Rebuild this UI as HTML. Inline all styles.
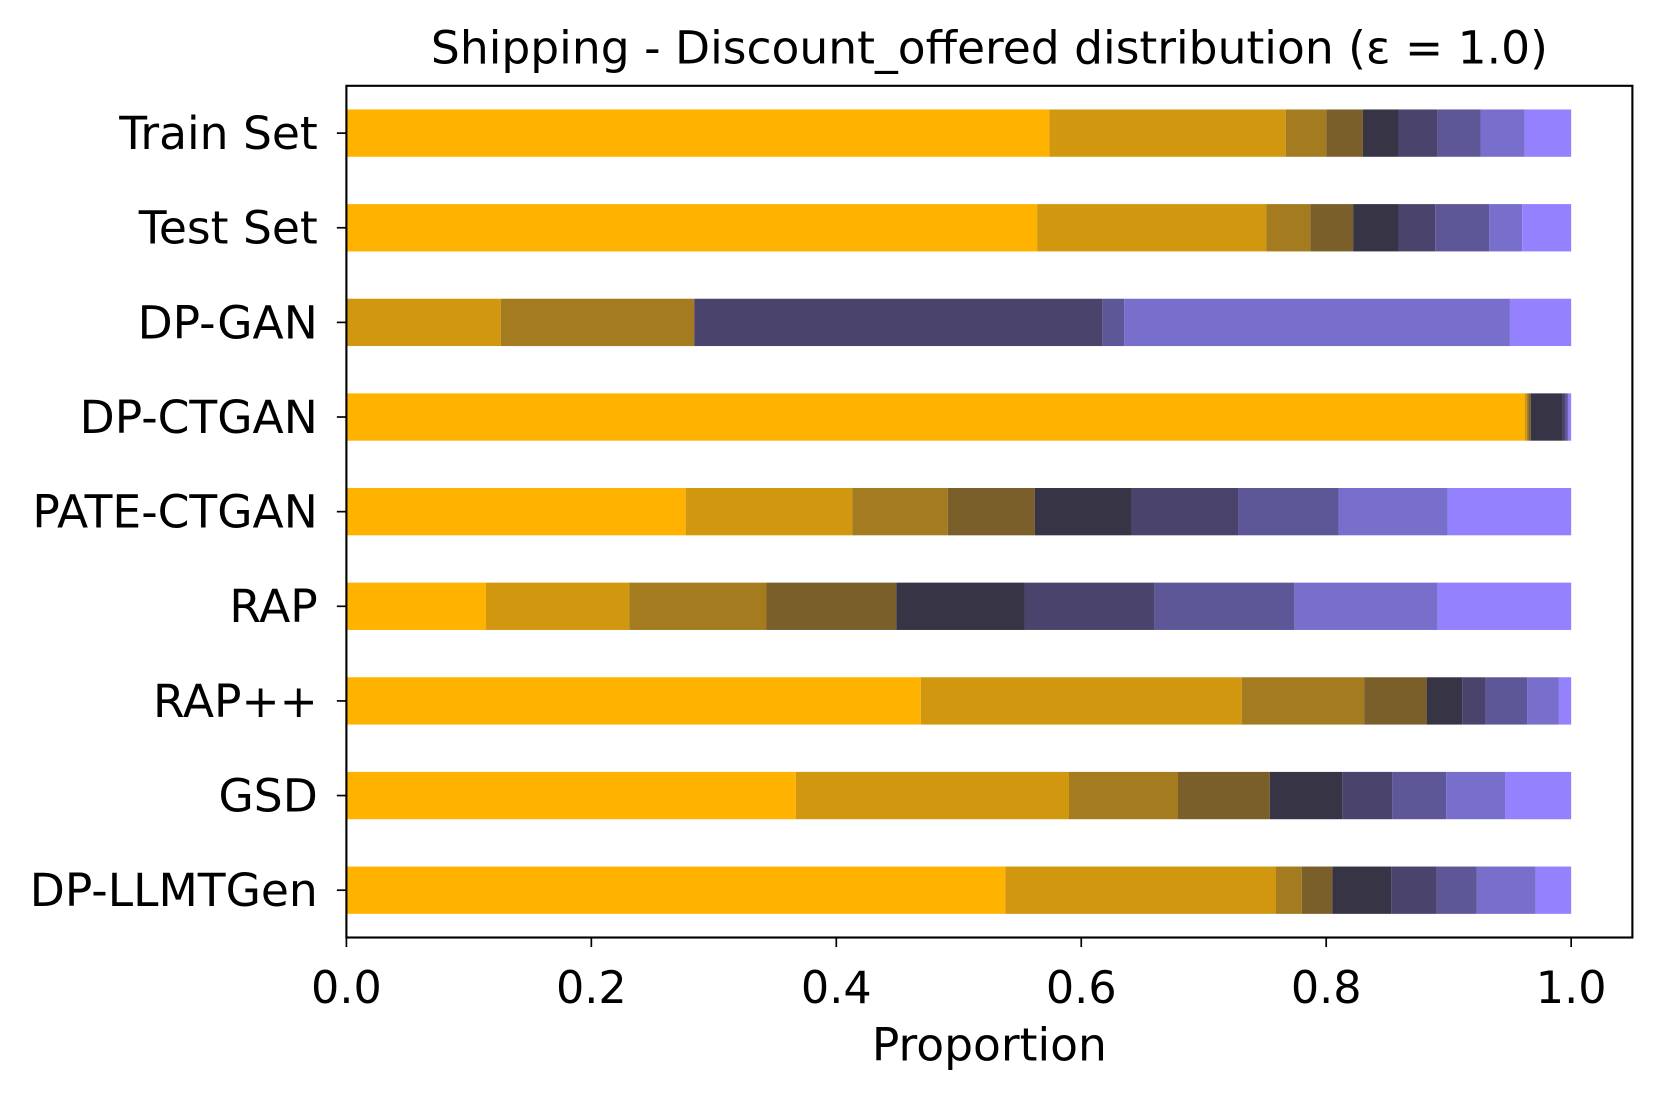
<!DOCTYPE html>
<html><head><meta charset="utf-8">
<style>
html,body{margin:0;padding:0;background:#fff;}
svg{display:block;}
text{font-family:"DejaVu Sans","Liberation Sans",sans-serif;fill:#000;}
</style></head>
<body>
<svg id="chart" width="1661" height="1098" viewBox="0 0 1568 1036.5" preserveAspectRatio="none" xmlns="http://www.w3.org/2000/svg">
<text x="934" y="60" font-size="43" text-anchor="middle">Shipping - Discount_offered distribution (ε = 1.0)</text>
<g id="bars"></g>
<g id="axes"></g>
<text x="934" y="1001" font-size="43" text-anchor="middle">Proportion</text>
</svg>
<script>
const categories = ["Train Set","Test Set","DP-GAN","DP-CTGAN","PATE-CTGAN","RAP","RAP++","GSD","DP-LLMTGen"];
const trainSet   = [0.574,0.193,0.033,0.030,0.029,0.032,0.035,0.036,0.038];
const testSet    = [0.564,0.187,0.036,0.035,0.037,0.030,0.044,0.027,0.040];
const dpGan      = [0,0.126,0.158,0,0,0.333,0.018,0.315,0.050];
const dpCtgan    = [0.962,0.002,0.001,0.002,0.026,0.002,0.002,0.001,0.002];
const pateCtgan  = [0.277,0.136,0.078,0.071,0.079,0.087,0.082,0.089,0.101];
const rap        = [0.114,0.117,0.112,0.106,0.105,0.106,0.114,0.117,0.109];
const rapPP      = [0.469,0.262,0.100,0.051,0.029,0.019,0.034,0.026,0.010];
const gsd        = [0.367,0.223,0.089,0.075,0.059,0.041,0.044,0.048,0.054];
const dpLlmtgen  = [0.538,0.221,0.021,0.025,0.048,0.037,0.033,0.048,0.029];
const xTicks = [0,0.2,0.4,0.6,0.8,1.0];
const xTickLabels = ["0.0","0.2","0.4","0.6","0.8","1.0"];

const series = [trainSet,testSet,dpGan,dpCtgan,pateCtgan,rap,rapPP,gsd,dpLlmtgen];
const colors = ["#FFB300","#D1970E","#A47B1E","#7A5F2A","#373446","#4A446C","#5D5798","#786ECB","#9381FE"];
const NS = "http://www.w3.org/2000/svg";
const L=327, R=1541, T=81, B=885;
const xScale = v => L + v*(R-L)/1.05;
const yScale = i => T + (i+0.5)*(B-T)/categories.length;
const barH = 0.5*(B-T)/categories.length;
const bars = document.getElementById('bars');
const axes = document.getElementById('axes');
function mk(tag, attrs){const e=document.createElementNS(NS,tag);for(const k in attrs)e.setAttribute(k,attrs[k]);return e;}

series.forEach((vals,i)=>{
  let acc=0;
  vals.forEach((v,j)=>{
    if(v<=0){return;}
    const x0=xScale(acc), x1=xScale(acc+v);
    const r=mk('rect',{x:x0,y:yScale(i)-barH/2,width:x1-x0,height:barH,fill:colors[j]});
    
    
    bars.appendChild(r);
    acc+=v;
  });
  const tk=mk('line',{x1:L-9,x2:L,y1:yScale(i),y2:yScale(i),stroke:'#000','stroke-width':1.6});
  
  
  axes.appendChild(tk);
  const t=mk('text',{x:L-27,y:yScale(i)+15,'font-size':43,'text-anchor':'end'});
  t.textContent=categories[i];
  
  
  axes.appendChild(t);
});
xTicks.forEach((v,k)=>{
  const x=xScale(v);
  const tk=mk('line',{x1:x,x2:x,y1:B,y2:B+9,stroke:'#000','stroke-width':1.6});
  
  
  axes.appendChild(tk);
  const t=mk('text',{x:x,y:B+62,'font-size':42,'text-anchor':'middle'});
  t.textContent=xTickLabels[k];
  
  
  axes.appendChild(t);
});
const frame=mk('rect',{x:L,y:T,width:R-L,height:B-T,fill:'none',stroke:'#000','stroke-width':2});


axes.appendChild(frame);
</script>
</body></html>
